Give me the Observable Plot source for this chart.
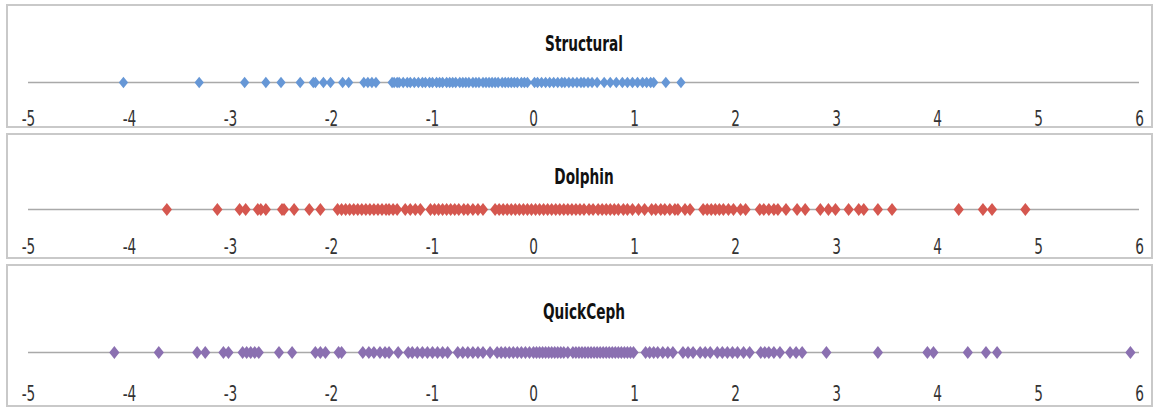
<!DOCTYPE html>
<html>
<head>
<meta charset="utf-8">
<script src="https://cdn.jsdelivr.net/npm/d3@7"></script>
<script src="https://cdn.jsdelivr.net/npm/@observablehq/plot@0.6"></script>
<style>
  html, body { margin: 0; padding: 0; background: #fff; }
  #root { position: relative; width: 1156px; height: 408px; overflow: hidden; background: #fff; }
  .panel { position: absolute; box-sizing: border-box; border: 2px solid #c9c9c9; background: #fff; }
  .plot { position: absolute; left: 0; }
</style>
</head>
<body>
<div id="root"></div>
<script>
// ---- data ----
const ticks = [-5, -4, -3, -2, -1, 0, 1, 2, 3, 4, 5, 6];
const seriesNames = ["Structural", "Dolphin", "QuickCeph"];
const seriesColors = ["#6697d6", "#d5574f", "#8b70b1"];

const structural = [
  -4.06, -3.31, -2.86, -2.65, -2.50, -2.31, -2.18, -2.16, -2.08, -2.01, -1.89, -1.83,
  -1.68, -1.64, -1.60, -1.56, -1.40, -1.35,
  -1.38, -1.33, -1.29, -1.25, -1.22, -1.18, -1.14, -1.10, -1.07, -1.03, -1.00, -0.96,
  -0.93, -0.90, -0.86, -0.83, -0.80, -0.77, -0.73, -0.70, -0.67, -0.64, -0.60, -0.57,
  -0.54, -0.50, -0.47, -0.44, -0.41, -0.38, -0.35, -0.31, -0.28, -0.25, -0.22, -0.19,
  -0.16, -0.12, -0.09, -0.06,
  0.01, 0.04, 0.08, 0.12, 0.16, 0.20, 0.24, 0.28, 0.31, 0.35, 0.39, 0.43, 0.47, 0.50,
  0.54, 0.58, 0.63,
  0.70, 0.76, 0.82, 0.88, 0.93, 0.98, 1.03, 1.08, 1.12, 1.16, 1.19,
  1.31, 1.46
];

const dolphin = [
  -3.63, -3.13, -2.91, -2.85, -2.73, -2.70, -2.65, -2.49, -2.47, -2.37, -2.22, -2.11,
  -1.94, -1.90, -1.86, -1.82, -1.78, -1.74, -1.70, -1.66, -1.62, -1.58, -1.54, -1.50,
  -1.46, -1.43, -1.39, -1.35,
  -1.27, -1.22, -1.17, -1.12,
  -1.02, -0.98, -0.94, -0.90, -0.86, -0.82, -0.78, -0.74, -0.69, -0.65, -0.60, -0.55, -0.50,
  -0.38, -0.34, -0.30, -0.26, -0.22, -0.18, -0.14, -0.10, -0.06, -0.02, 0.02, 0.06, 0.10,
  0.14, 0.18,
  0.22, 0.26, 0.30, 0.34, 0.38, 0.42, 0.46, 0.50, 0.55, 0.59,
  0.64, 0.68, 0.72, 0.76, 0.80, 0.84, 0.89, 0.93, 0.98, 1.04, 1.10,
  1.17, 1.21, 1.26, 1.30, 1.35, 1.40, 1.43, 1.50, 1.55,
  1.68, 1.72, 1.76, 1.80, 1.84, 1.88, 1.93, 1.98, 2.05, 2.10,
  2.24, 2.28, 2.33, 2.38, 2.42, 2.50, 2.61, 2.69, 2.84, 2.92, 2.99, 3.12, 3.22, 3.27,
  3.41, 3.55, 4.21, 4.45, 4.54, 4.87
];

const quickceph = [
  -4.15, -3.71, -3.33, -3.25, -3.07, -3.02, -2.88, -2.84, -2.80, -2.76, -2.72, -2.52,
  -2.39, -2.16, -2.11, -2.06, -1.93, -1.90,
  -1.69, -1.63, -1.58, -1.52, -1.47, -1.43, -1.34,
  -1.24, -1.20, -1.15, -1.10, -1.05, -1.00, -0.95, -0.90, -0.85,
  -0.75, -0.70, -0.65, -0.60, -0.55, -0.50, -0.43,
  -0.36, -0.32, -0.28, -0.24, -0.20, -0.16, -0.12, -0.08, -0.04,
  0.00, 0.03, 0.06, 0.09, 0.12, 0.15, 0.18, 0.21, 0.24, 0.27, 0.30, 0.34,
  0.39, 0.42, 0.45, 0.48, 0.51, 0.54, 0.57, 0.60, 0.63, 0.66, 0.69, 0.72, 0.75, 0.78,
  0.81, 0.84, 0.87, 0.90, 0.93, 0.96, 0.99,
  1.11, 1.15, 1.19, 1.23, 1.28, 1.33, 1.38,
  1.48, 1.53, 1.58, 1.65, 1.70, 1.75,
  1.82, 1.87, 1.92, 1.97, 2.02, 2.08, 2.14,
  2.25, 2.29, 2.33, 2.38, 2.44, 2.54, 2.60, 2.66, 2.90, 3.41, 3.90, 3.96, 4.30, 4.48,
  4.59, 5.91
];

const seriesValues = [structural, dolphin, quickceph];

// ---- layout (pixels) ----
const layout = [
  {top: 4,   bottom: 128, lineY: 82,  labelTop: 110, titleBase: 50,  r: 5.8},
  {top: 133, bottom: 259, lineY: 209, labelTop: 238, titleBase: 183, r: 6.4},
  {top: 264, bottom: 407, lineY: 352, labelTop: 385, titleBase: 318, r: 6.4}
];

// tall diamond symbol
const tallDiamond = {
  draw(context, size) {
    const r = Math.sqrt(size / Math.PI);
    const w = r * 0.8;
    context.moveTo(0, -r);
    context.lineTo(w, 0);
    context.lineTo(0, r);
    context.lineTo(-w, 0);
    context.closePath();
  }
};

const fontFamily = "'Liberation Sans Narrow', 'DejaVu Sans Condensed', 'Arial Narrow', sans-serif";
const root = document.getElementById("root");

seriesNames.forEach((name, i) => {
  const L = layout[i];
  const H = L.bottom - L.top;
  const lineRel = L.lineY - L.top;

  const box = document.createElement("div");
  box.className = "panel";
  box.style.left = "6px";
  box.style.top = L.top + "px";
  box.style.width = (1153 - 6) + "px";
  box.style.height = H + "px";
  root.appendChild(box);

  const chart = Plot.plot({
    width: 1156,
    height: H,
    marginLeft: 28,
    marginRight: 17,
    marginTop: lineRel - 10,
    marginBottom: H - lineRel - 10,
    style: {background: "transparent", fontFamily, overflow: "visible"},
    x: {domain: [-5, 6], axis: null},
    y: {domain: [0, 1], axis: null},
    marks: [
      Plot.ruleY([0.5], {stroke: "#a9a9a9", strokeWidth: 1.6}),
      Plot.dot(seriesValues[i], {
        x: d => d, y: () => 0.5, symbol: tallDiamond, r: L.r,
        fill: seriesColors[i], stroke: "none"
      }),
      Plot.axisX(ticks, {
        anchor: "bottom", tickSize: 0,
        tickPadding: L.labelTop - (L.lineY + 10),
        tickFormat: d => String(d),
        fontSize: 19, fontFamily, fill: "#333"
      }),
      Plot.text([name], {
        frameAnchor: "top", text: d => d, lineAnchor: "bottom",
        dy: L.titleBase - (L.lineY - 10),
        fontWeight: "bold", fontSize: 19, fontFamily, fill: "#111"
      })
    ]
  });
  // narrow, tall lettering like the original (scale about each label's own anchor)
  chart.querySelectorAll("text").forEach(t => {
    const tr = t.getAttribute("transform");
    if (tr && tr.includes("translate")) t.setAttribute("transform", tr + " scale(0.8,1.15)");
  });
  chart.classList.add("plot");
  chart.style.top = L.top + "px";
  root.appendChild(chart);
});
</script>
</body>
</html>
